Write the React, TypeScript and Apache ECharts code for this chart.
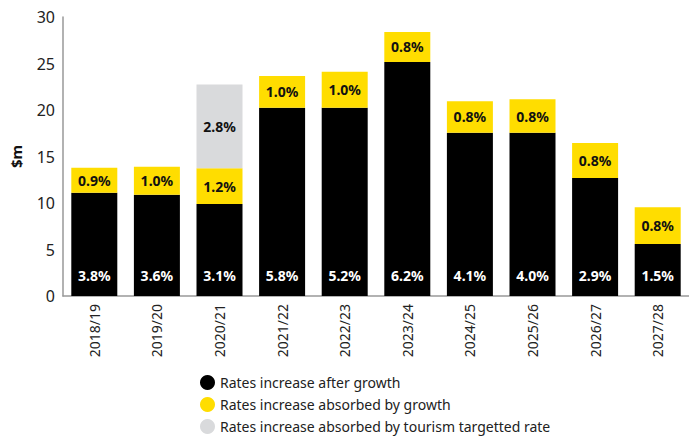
import React, { useEffect, useRef } from "react";
import * as echarts from "echarts";

const categories = ["2018/19", "2019/20", "2020/21", "2021/22", "2022/23", "2023/24", "2024/25", "2025/26", "2026/27", "2027/28"];
const afterGrowth = [11.1, 10.9, 9.9, 20.25, 20.25, 25.15, 17.55, 17.55, 12.7, 5.6];
const absorbedGrowth = [2.7, 3.0, 3.85, 3.4, 3.85, 3.25, 3.4, 3.6, 3.75, 3.95];
const absorbedTourism = [0, 0, 9.0, 0, 0, 0, 0, 0, 0, 0];
const afterGrowthLabels = ["3.8%", "3.6%", "3.1%", "5.8%", "5.2%", "6.2%", "4.1%", "4.0%", "2.9%", "1.5%"];
const absorbedGrowthLabels = ["0.9%", "1.0%", "1.2%", "1.0%", "1.0%", "0.8%", "0.8%", "0.8%", "0.8%", "0.8%"];
const absorbedTourismLabels = ["", "", "2.8%", "", "", "", "", "", "", ""];
const yTicks = [0, 5, 10, 15, 20, 25, 30];

const FONT = "Noto Sans";

export default function App() {
  const ref = useRef<HTMLDivElement>(null);
  useEffect(() => {
    const chart = echarts.init(ref.current!, null, { renderer: "svg" });
    chart.setOption({
      animation: false,
      textStyle: { fontFamily: FONT },
      grid: { left: 54, right: -8, top: 17, bottom: 143, containLabel: false },
      legend: {
        orient: "vertical",
        left: 195,
        top: 370,
        height: 80,
        itemWidth: 15,
        itemHeight: 15,
        itemGap: 7,
        icon: "circle",
        textStyle: { fontFamily: FONT, fontSize: 14, lineHeight: 15, color: "#222" },
        data: [
          "Rates increase after growth",
          "Rates increase absorbed by growth",
          "Rates increase absorbed by tourism targetted rate",
        ],
      },
      xAxis: {
        type: "category",
        data: categories,
        axisLine: { lineStyle: { color: "#999", width: 1.5 } },
        axisTick: { show: false },
        axisLabel: { rotate: 90, fontSize: 14, color: "#222", margin: 8, fontFamily: FONT },
      },
      yAxis: {
        type: "value",
        min: yTicks[0],
        max: yTicks[yTicks.length - 1],
        interval: 5,
        name: "$m",
        nameLocation: "middle",
        nameGap: 40,
        nameRotate: 90,
        nameTextStyle: { fontWeight: "bold", fontSize: 15, color: "#111", fontFamily: FONT },
        axisLine: { show: true, lineStyle: { color: "#999", width: 1.5 } },
        axisTick: { show: false },
        splitLine: { show: false },
        axisLabel: { fontSize: 16, color: "#222", margin: 8, fontFamily: FONT },
      },
      series: [
        {
          name: "Rates increase after growth",
          type: "bar",
          stack: "a",
          barWidth: 46,
          itemStyle: { color: "#000000" },
          data: afterGrowth,
          label: {
            show: true,
            position: "insideBottom",
            distance: 14,
            color: "#fff",
            fontWeight: "bold",
            fontSize: 14,
            fontFamily: FONT,
            formatter: (p: any) => afterGrowthLabels[p.dataIndex],
          },
        },
        {
          name: "Rates increase absorbed by growth",
          type: "bar",
          stack: "a",
          itemStyle: { color: "#FFDD00" },
          data: absorbedGrowth,
          label: {
            show: true,
            position: "inside",
            color: "#111",
            fontWeight: "bold",
            fontSize: 14,
            fontFamily: FONT,
            formatter: (p: any) => absorbedGrowthLabels[p.dataIndex],
          },
        },
        {
          name: "Rates increase absorbed by tourism targetted rate",
          type: "bar",
          stack: "a",
          itemStyle: { color: "#D9DADC" },
          data: absorbedTourism,
          label: {
            show: true,
            position: "inside",
            color: "#111",
            fontWeight: "bold",
            fontSize: 14,
            fontFamily: FONT,
            formatter: (p: any) => absorbedTourismLabels[p.dataIndex],
          },
        },
      ],
    });
    return () => chart.dispose();
  }, []);
  return <div ref={ref} style={{ width: 689, height: 439, position: "absolute", left: 0, top: 0 }} />;
}
